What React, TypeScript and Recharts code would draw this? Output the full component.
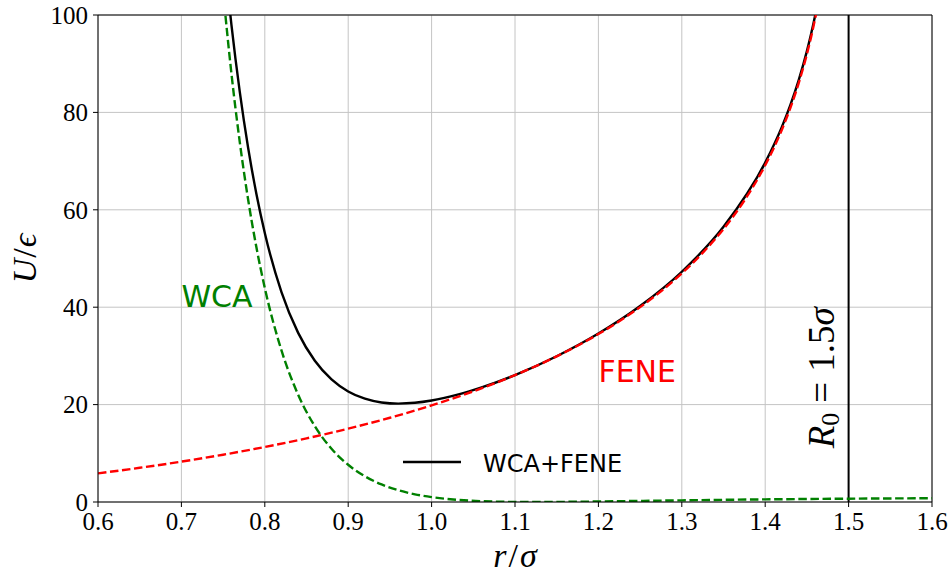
import React from 'react';
import { LineChart, Line, XAxis, YAxis, CartesianGrid, ReferenceLine, ReferenceDot } from 'recharts';

// WCA + FENE (total) potential
const totalR = [0.75, 0.755, 0.76, 0.77, 0.78, 0.79, 0.8, 0.82, 0.84, 0.86, 0.88, 0.9, 0.92, 0.94, 0.96, 0.98, 1.0, 1.03, 1.06, 1.1, 1.15, 1.2, 1.25, 1.3, 1.35, 1.4, 1.42, 1.43, 1.44, 1.45, 1.455, 1.46, 1.465];
const totalU = [114.5, 105.9, 97.97, 84.21, 72.75, 63.2, 55.25, 43.1, 34.73, 29.0, 25.17, 22.7, 21.21, 20.44, 20.2, 20.37, 20.84, 21.98, 23.52, 26.06, 29.93, 34.59, 40.24, 47.28, 56.5, 69.69, 77.02, 81.43, 86.53, 92.58, 96.08, 100.01, 104.5];

// WCA (green dashed)
const wcaR = [0.75, 0.76, 0.77, 0.78, 0.79, 0.8, 0.82, 0.84, 0.86, 0.88, 0.9, 0.92, 0.94, 0.96, 0.98, 1.0, 1.03, 1.06, 1.08, 1.1, 1.12, 1.15, 1.2, 1.3, 1.4, 1.5, 1.6];
const wcaU = [104.8, 87.96, 73.89, 62.11, 52.24, 43.95, 31.12, 22.03, 15.55, 10.93, 7.64, 5.28, 3.61, 2.42, 1.58, 1.0, 0.456, 0.168, 0.068, 0.017, 0.0, 0.018, 0.109, 0.343, 0.539, 0.68, 0.776];

// FENE (red dashed)
const feneR = [0.6, 0.65, 0.7, 0.75, 0.8, 0.85, 0.9, 0.95, 1.0, 1.05, 1.1, 1.15, 1.2, 1.225, 1.25, 1.275, 1.3, 1.325, 1.35, 1.375, 1.4, 1.42, 1.43, 1.44, 1.45, 1.455, 1.46, 1.465];
const feneU = [5.88, 7.02, 8.29, 9.71, 11.3, 13.07, 15.06, 17.3, 19.84, 22.73, 26.05, 29.91, 34.48, 37.11, 40.02, 43.27, 46.94, 51.15, 56.05, 61.91, 69.15, 76.45, 80.84, 85.93, 91.96, 95.46, 99.38, 103.83];

const xTicks = [0.6, 0.7, 0.8, 0.9, 1.0, 1.1, 1.2, 1.3, 1.4, 1.5, 1.6];
const yTicks = [0, 20, 40, 60, 80, 100];

const R0 = 1.5;

const toRows = (rs: number[], us: number[]) => rs.map((r, i) => ({ r, u: us[i] }));
const totalData = toRows(totalR, totalU);
const wcaData = toRows(wcaR, wcaU);
const feneData = toRows(feneR, feneU);

const SERIF = '"Liberation Serif", "DejaVu Serif", serif';
const SANS = '"DejaVu Sans", sans-serif';
const LW = 2.4;
const DASH = '8.5 3.6';

const center = (p: any) => {
  const vb = p.viewBox || {};
  return { x: (vb.x ?? 0) + (vb.width ?? 0) / 2, y: (vb.y ?? 0) + (vb.height ?? 0) / 2 };
};

export default function App() {
  return (
    <div style={{ position: 'absolute', left: 0, top: 0, width: 950, height: 578, background: '#fff' }}>
      <LineChart width={950} height={578} margin={{ top: 15, right: 18, bottom: 0, left: 0 }}>
        <CartesianGrid stroke="#c4c4c4" strokeWidth={1} />
        <XAxis
          dataKey="r"
          type="number"
          domain={[0.6, 1.6]}
          ticks={xTicks}
          allowDataOverflow
          height={76}
          tickSize={5}
          tickMargin={5}
          stroke="#000"
          tickFormatter={(v: number) => v.toFixed(1)}
          tick={{ fill: '#000', fontFamily: SERIF, fontSize: 25 }}
          label={(p: any) => {
            const vb = p.viewBox || {};
            const cx = (vb.x ?? 0) + (vb.width ?? 0) / 2;
            return (
              <text x={cx} y={567} textAnchor="middle" fontFamily={SERIF} fontSize={34} fill="#000">
                <tspan fontStyle="italic">r</tspan>
                <tspan dx={2}>/</tspan>
                <tspan dx={2} fontStyle="italic">σ</tspan>
              </text>
            );
          }}
        />
        <YAxis
          type="number"
          domain={[0, 100]}
          ticks={yTicks}
          allowDataOverflow
          width={98}
          tickSize={5}
          tickMargin={5}
          stroke="#000"
          tick={{ fill: '#000', fontFamily: SERIF, fontSize: 25 }}
          label={(p: any) => {
            const vb = p.viewBox || {};
            const cy = (vb.y ?? 0) + (vb.height ?? 0) / 2;
            return (
              <text x={36} y={cy} transform={`rotate(-90, 36, ${cy})`} textAnchor="middle" fontFamily={SERIF} fontSize={34} fill="#000">
                <tspan fontStyle="italic">U</tspan>
                <tspan dx={1}>/</tspan>
                <tspan dx={1} fontStyle="italic">ϵ</tspan>
              </text>
            );
          }}
        />
        <ReferenceLine y={100} stroke="#000" strokeWidth={1} />
        <ReferenceLine x={1.6} stroke="#000" strokeWidth={1} />
        <ReferenceLine x={R0} stroke="#000" strokeWidth={2} />
        <Line data={totalData} dataKey="u" type="monotone" stroke="#000" strokeWidth={LW} dot={false} activeDot={false} isAnimationActive={false} />
        <Line data={wcaData} dataKey="u" type="monotone" stroke="#008000" strokeWidth={LW} strokeDasharray={DASH} dot={false} activeDot={false} isAnimationActive={false} />
        <Line data={feneData} dataKey="u" type="monotone" stroke="#ff0000" strokeWidth={LW} strokeDasharray={DASH} dot={false} activeDot={false} isAnimationActive={false} />
        <ReferenceDot
          x={0.7}
          y={40}
          r={1}
          fill="none"
          stroke="none"
          label={(p: any) => {
            const c = center(p);
            return (
              <text x={c.x} y={c.y} textAnchor="start" fontFamily={SANS} fontSize={30} fill="#008000">WCA</text>
            );
          }}
        />
        <ReferenceDot
          x={1.2}
          y={24.6}
          r={1}
          fill="none"
          stroke="none"
          label={(p: any) => {
            const c = center(p);
            return (
              <text x={c.x} y={c.y} textAnchor="start" fontFamily={SANS} fontSize={30} fill="#ff0000">FENE</text>
            );
          }}
        />
        <ReferenceDot
          x={1.4825}
          y={25.5}
          r={1}
          fill="none"
          stroke="none"
          label={(p: any) => {
            const c = center(p);
            return (
              <text x={c.x} y={c.y} transform={`rotate(-90, ${c.x}, ${c.y})`} textAnchor="middle" fontFamily={SERIF} fontSize={37} fill="#000">
                <tspan fontStyle="italic">R</tspan>
                <tspan fontSize={26} dy={5}>0</tspan>
                <tspan dy={-5} dx={10}>=</tspan>
                <tspan dx={10}>1.5</tspan>
                <tspan fontStyle="italic">σ</tspan>
              </text>
            );
          }}
        />
        <ReferenceDot
          x={0.9657}
          y={8.2}
          r={1}
          fill="none"
          stroke="none"
          label={(p: any) => {
            const c = center(p);
            return (
              <g>
                <line x1={c.x} y1={c.y} x2={c.x + 58} y2={c.y} stroke="#000" strokeWidth={LW} />
                <text x={c.x + 80} y={c.y + 10} textAnchor="start" fontFamily={SANS} fontSize={24} fill="#000">WCA+FENE</text>
              </g>
            );
          }}
        />
      </LineChart>
    </div>
  );
}
